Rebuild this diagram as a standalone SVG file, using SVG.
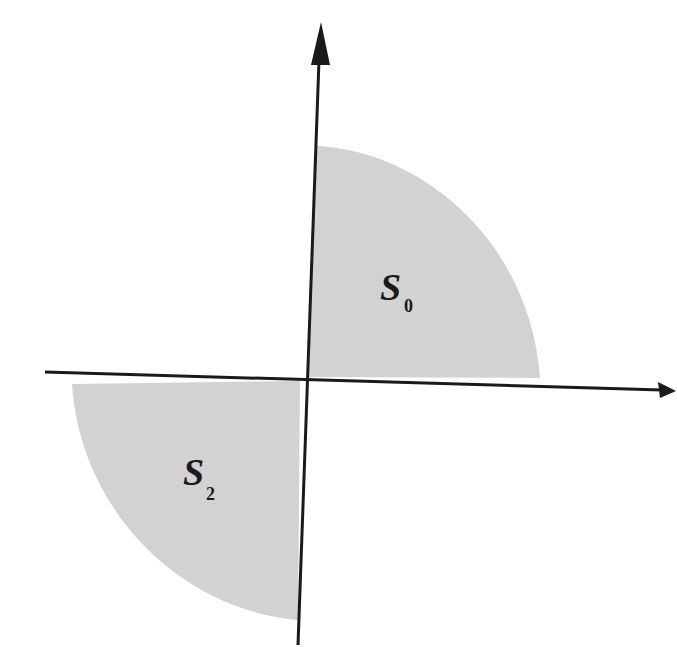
<svg xmlns="http://www.w3.org/2000/svg" width="677" height="647" viewBox="0 0 677 647">
<defs>
<style>
.axis{stroke:#1a1a1a;stroke-width:3;fill:none}
.shade{fill:#d2d2d2}
.lbl{font-family:"Liberation Serif",serif;font-style:italic;font-weight:bold;fill:#1a1a1a}
.sub{font-family:"Liberation Serif",serif;font-weight:bold;fill:#1a1a1a}
</style>
</defs>
<rect width="677" height="647" fill="#ffffff"/>
<g id="region-s0">
<path class="shade" d="M316,146 C420,150 530,240 540,378 L309,377 Z"/>
<text class="lbl" x="380" y="300" font-size="38">S</text>
<text class="sub" x="404" y="312" font-size="18">0</text>
</g>
<g id="region-s2">
<path class="shade" d="M72,384 L300,381 L298,620 C180,610 80,510 72,384 Z"/>
<text class="lbl" x="183" y="485" font-size="38">S</text>
<text class="sub" x="206" y="500" font-size="18">2</text>
</g>
<g id="connectors">
<line class="axis" x1="319" y1="60" x2="298" y2="645"/>
<polygon points="321,22 311,65 330,65" fill="#1a1a1a"/>
<line class="axis" x1="45" y1="372" x2="662" y2="390"/>
<polygon points="676,391 658,382 660,398" fill="#1a1a1a"/>
</g>
</svg>
